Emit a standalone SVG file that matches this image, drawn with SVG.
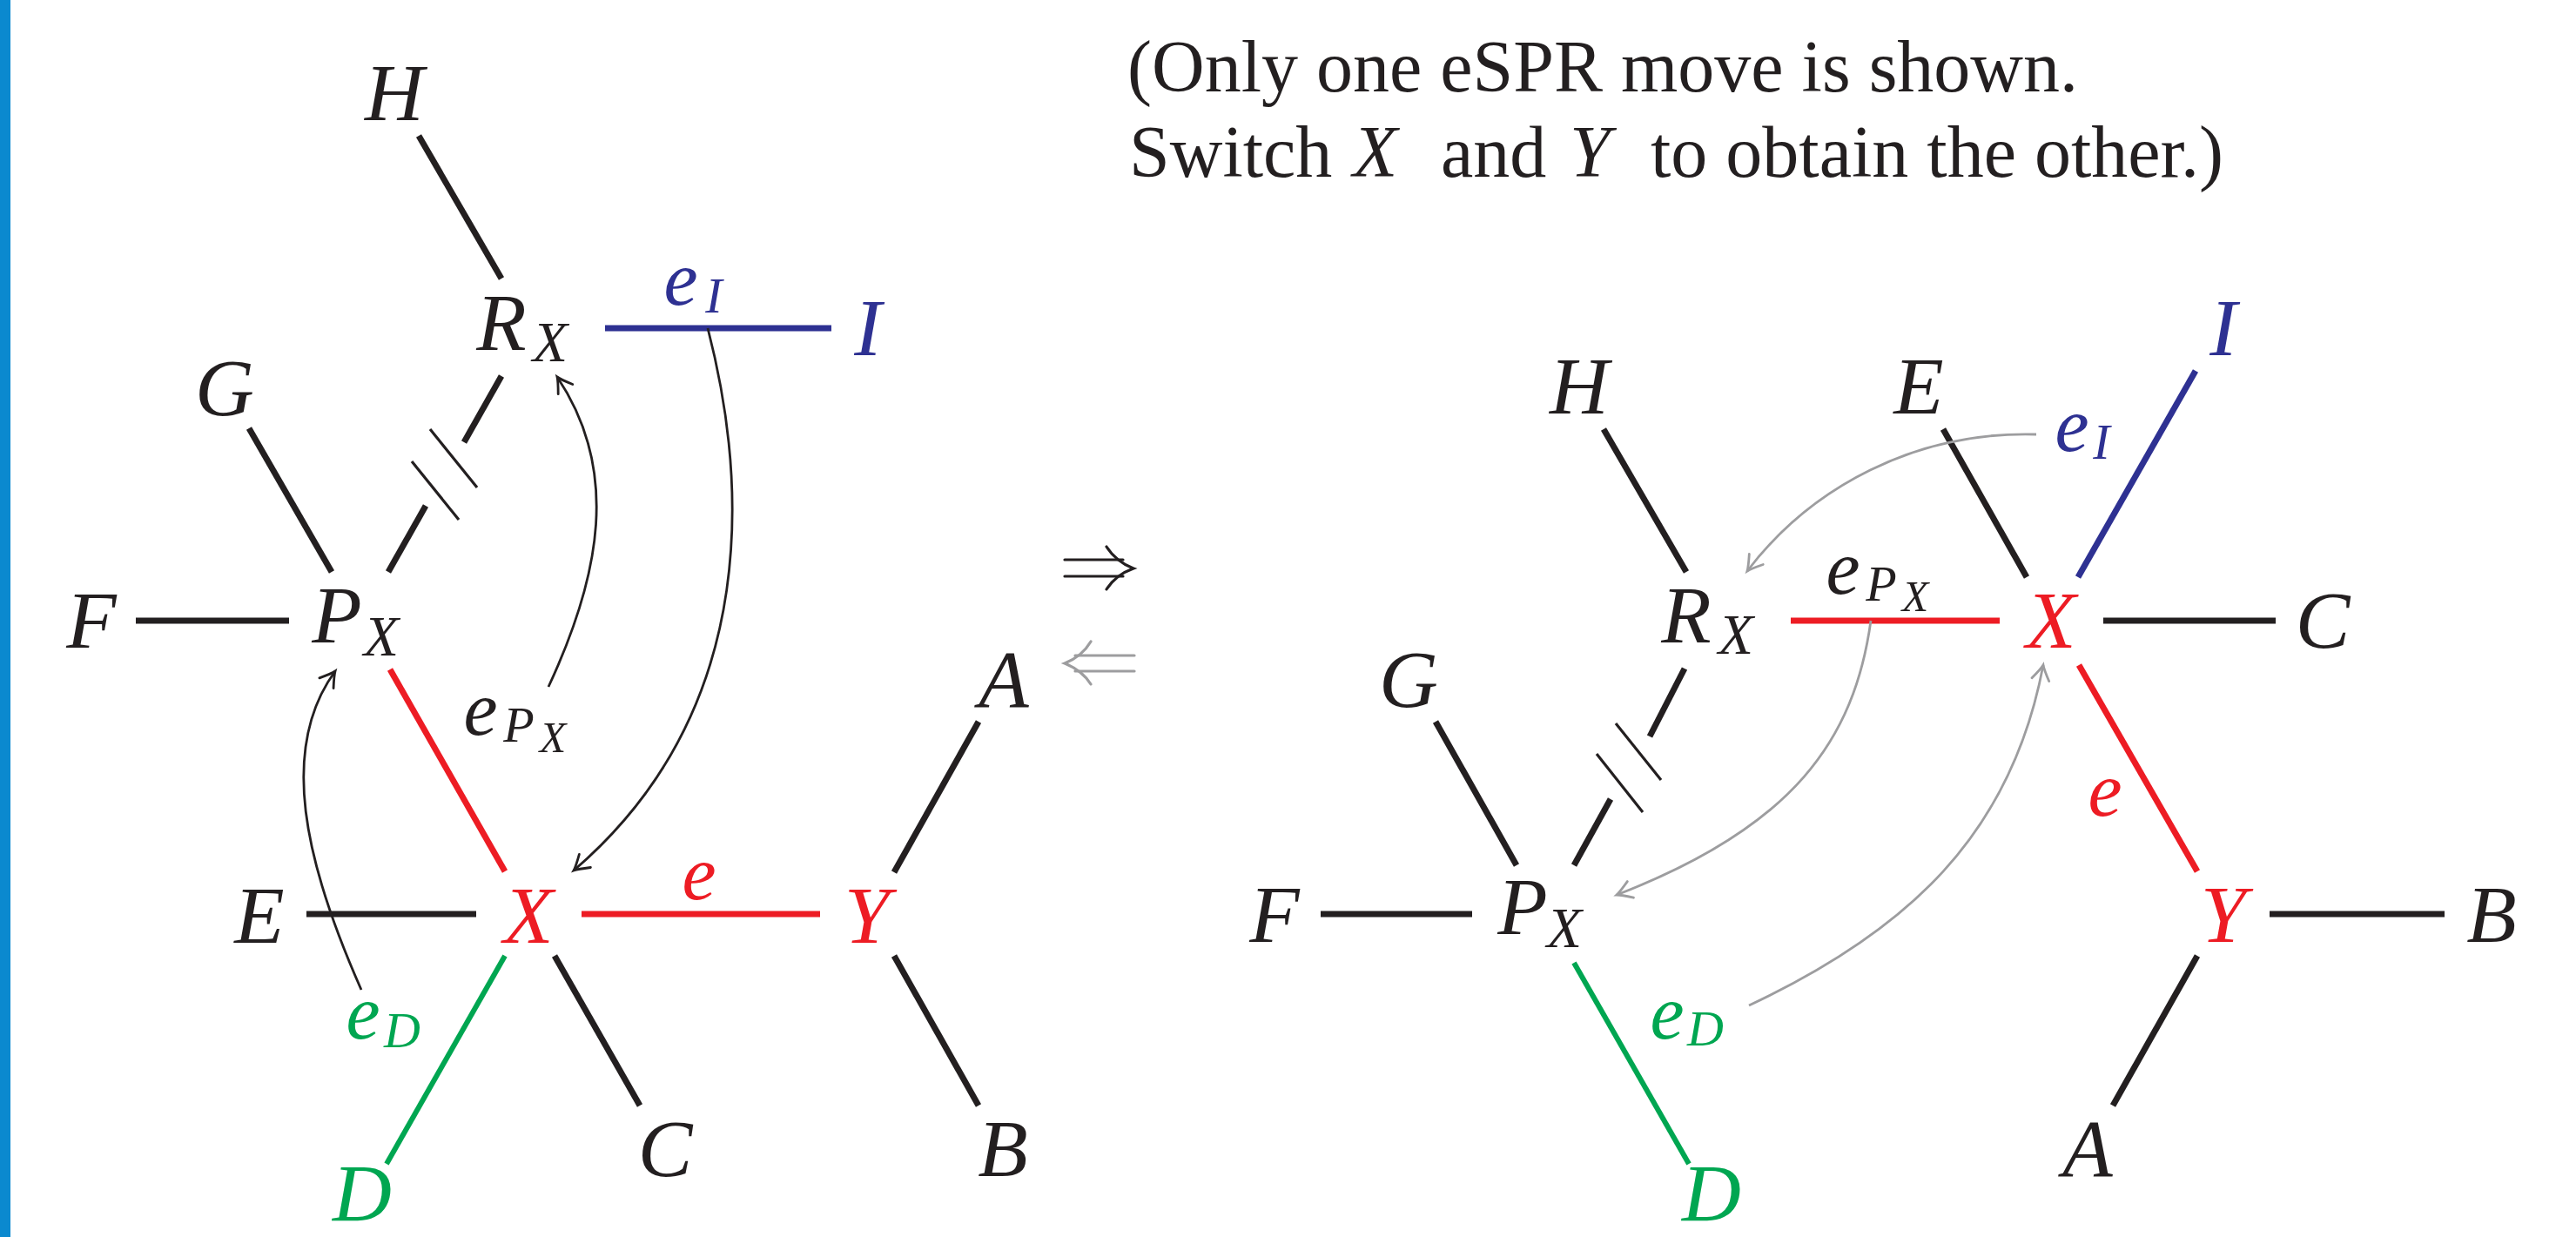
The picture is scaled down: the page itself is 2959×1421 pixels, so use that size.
<svg xmlns="http://www.w3.org/2000/svg" width="2959" height="1421" viewBox="0 0 2959 1421">
<style>
text{font-family:"Liberation Serif","Times New Roman",serif;}
.m{font-style:italic;font-size:94px;text-anchor:middle;fill:#231f20;}
.s{font-style:italic;font-size:66px;text-anchor:middle;fill:#231f20;}
.le{font-style:italic;font-size:88px;text-anchor:middle;}
.ls{font-style:italic;font-size:58px;text-anchor:middle;}
.lss{font-style:italic;font-size:50px;text-anchor:middle;}
.red{fill:#ed1c24;}
.blue{fill:#2e3192;}
.green{fill:#00a651;}
.blk{fill:#231f20;}
.e{stroke:#231f20;stroke-width:7;fill:none;}
.er{stroke:#ed1c24;stroke-width:7;fill:none;}
.eb{stroke:#2e3192;stroke-width:7;fill:none;}
.eg{stroke:#00a651;stroke-width:6;fill:none;}
.sl{stroke:#231f20;stroke-width:3.2;fill:none;}
.ca{stroke:#231f20;stroke-width:2.8;fill:none;marker-end:url(#ab);}
.cg{stroke:#9d9d9f;stroke-width:2.8;fill:none;marker-end:url(#ag);}
.cap{font-size:84px;fill:#231f20;}
</style>
<defs>
<marker id="ab" markerUnits="userSpaceOnUse" markerWidth="40" markerHeight="40" refX="0" refY="0" orient="auto" overflow="visible">
<path d="M -17 -10 C -11 -6 -4 -1.5 0 0 C -4 1.5 -11 6 -17 10" fill="none" stroke="#231f20" stroke-width="2.8" stroke-linecap="round"/>
</marker>
<marker id="ag" markerUnits="userSpaceOnUse" markerWidth="40" markerHeight="40" refX="0" refY="0" orient="auto" overflow="visible">
<path d="M -17 -10 C -11 -6 -4 -1.5 0 0 C -4 1.5 -11 6 -17 10" fill="none" stroke="#9d9d9f" stroke-width="2.8" stroke-linecap="round"/>
</marker>
</defs>
<rect x="0" y="0" width="12" height="1421" fill="#0b89cf"/>
<g id="caption">
<text class="cap" x="1295" y="105">(Only one eSPR move is shown.</text>
<text class="cap" y="203"><tspan x="1297">Switch</tspan><tspan x="1554" font-style="italic">X</tspan><tspan x="1655">and</tspan><tspan x="1803" font-style="italic">Y</tspan><tspan x="1896">to obtain the other.)</tspan></text>
</g>
<g id="connectors">
<!-- left tree -->
<line class="e" x1="481" y1="156" x2="576" y2="320"/>
<line class="eb" x1="695" y1="377" x2="955" y2="377"/>
<line class="e" x1="576" y1="432" x2="533" y2="508"/>
<line class="e" x1="489" y1="581" x2="446" y2="657"/>
<line class="sl" x1="494" y1="493" x2="548" y2="560"/>
<line class="sl" x1="473" y1="530" x2="527" y2="597"/>
<line class="e" x1="286" y1="492" x2="381" y2="657"/>
<line class="e" x1="156" y1="713" x2="332" y2="713"/>
<line class="er" x1="448" y1="769" x2="580" y2="1001"/>
<line class="e" x1="352" y1="1050" x2="547" y2="1050"/>
<line class="er" x1="668" y1="1050" x2="942" y2="1050"/>
<line class="e" x1="1124" y1="829" x2="1027" y2="1002"/>
<line class="e" x1="1027" y1="1098" x2="1124" y2="1270"/>
<line class="e" x1="637" y1="1098" x2="735" y2="1270"/>
<line class="eg" x1="580" y1="1098" x2="444" y2="1337"/>
<path class="ca" d="M 813 377 C 855 540 880 810 659 1000"/>
<path class="ca" d="M 630 789 C 690 660 712 540 640 433"/>
<path class="ca" d="M 415 1137 C 350 990 320 860 385 771"/>
<!-- right tree -->
<line class="e" x1="1842" y1="493" x2="1937" y2="657"/>
<line class="e" x1="2232" y1="493" x2="2328" y2="663"/>
<line class="eb" x1="2522" y1="426" x2="2387" y2="663"/>
<line class="er" x1="2057" y1="713" x2="2297" y2="713"/>
<line class="e" x1="2416" y1="713" x2="2614" y2="713"/>
<line class="e" x1="1649" y1="829" x2="1742" y2="994"/>
<line class="e" x1="1935" y1="768" x2="1895" y2="846"/>
<line class="e" x1="1850" y1="918" x2="1808" y2="994"/>
<line class="sl" x1="1856" y1="831" x2="1908" y2="896"/>
<line class="sl" x1="1834" y1="866" x2="1887" y2="933"/>
<line class="e" x1="1517" y1="1050" x2="1691" y2="1050"/>
<line class="eg" x1="1808" y1="1106" x2="1940" y2="1337"/>
<line class="er" x1="2388" y1="764" x2="2524" y2="1001"/>
<line class="e" x1="2607" y1="1050" x2="2808" y2="1050"/>
<line class="e" x1="2524" y1="1098" x2="2427" y2="1270"/>
<path class="cg" d="M 2339 499 C 2200 495 2080 560 2007 656"/>
<path class="cg" d="M 2149 713 C 2130 850 2060 950 1857 1028"/>
<path class="cg" d="M 2009 1155 C 2190 1070 2310 960 2347 764"/>
<!-- move arrows -->
<g fill="none" stroke="#231f20" stroke-width="3.2" stroke-linecap="round">
<path d="M 1223 643 H 1290 M 1223 662 H 1290"/>
<path d="M 1271 628 Q 1282 645 1302 653 Q 1282 660 1271 677"/>
</g>
<g fill="none" stroke="#9d9d9f" stroke-width="3.2" stroke-linecap="round">
<path d="M 1235 753 H 1303 M 1235 771 H 1303"/>
<path d="M 1253 737 Q 1243 754 1223 762 Q 1243 770 1253 786"/>
</g>
</g>
<g id="edge-labels">
<text class="le blue" x="782" y="350">e</text><text class="ls blue" x="820" y="359">I</text>
<text class="le blk" x="552" y="844">e</text><text class="ls blk" x="596" y="852">P</text><text class="lss blk" x="635" y="864">X</text>
<text class="le red" x="803" y="1033">e</text>
<text class="le green" x="417" y="1193">e</text><text class="ls green" x="462" y="1203">D</text>
<text class="le blue" x="2380" y="518">e</text><text class="ls blue" x="2414" y="527">I</text>
<text class="le blk" x="2117" y="682">e</text><text class="ls blk" x="2161" y="690">P</text><text class="lss blk" x="2200" y="702">X</text>
<text class="le red" x="2418" y="937">e</text>
<text class="le green" x="1915" y="1193">e</text><text class="ls green" x="1959" y="1201">D</text>
</g>
<g id="L-H"><text class="m" x="453" y="138">H</text></g>
<g id="L-RX"><text class="m" x="576" y="402">R</text><text class="s" x="632" y="415">X</text></g>
<g id="L-G"><text class="m" x="258" y="477">G</text></g>
<g id="L-I"><text class="m blue" x="997" y="408">I</text></g>
<g id="L-F"><text class="m" x="105" y="744">F</text></g>
<g id="L-PX"><text class="m" x="387" y="738">P</text><text class="s" x="438" y="753">X</text></g>
<g id="L-A"><text class="m" x="1153" y="812">A</text></g>
<g id="L-E"><text class="m" x="298" y="1083">E</text></g>
<g id="L-X"><text class="m red" x="607" y="1083">X</text></g>
<g id="L-Y"><text class="m red" x="996" y="1083">Y</text></g>
<g id="L-C"><text class="m" x="764" y="1351">C</text></g>
<g id="L-B"><text class="m" x="1152" y="1351">B</text></g>
<g id="L-D"><text class="m green" x="416" y="1402">D</text></g>
<g id="R-H"><text class="m" x="1814" y="475">H</text></g>
<g id="R-E"><text class="m" x="2204" y="475">E</text></g>
<g id="R-I"><text class="m blue" x="2554" y="408">I</text></g>
<g id="R-RX"><text class="m" x="1937" y="738">R</text><text class="s" x="1994" y="751">X</text></g>
<g id="R-X"><text class="m red" x="2356" y="744">X</text></g>
<g id="R-C"><text class="m" x="2668" y="744">C</text></g>
<g id="R-G"><text class="m" x="1618" y="812">G</text></g>
<g id="R-F"><text class="m" x="1464" y="1082">F</text></g>
<g id="R-PX"><text class="m" x="1749" y="1073">P</text><text class="s" x="1797" y="1088">X</text></g>
<g id="R-Y"><text class="m red" x="2554" y="1082">Y</text></g>
<g id="R-B"><text class="m" x="2862" y="1082">B</text></g>
<g id="R-A"><text class="m" x="2398" y="1351">A</text></g>
<g id="R-D"><text class="m green" x="1966" y="1402">D</text></g>
</svg>
